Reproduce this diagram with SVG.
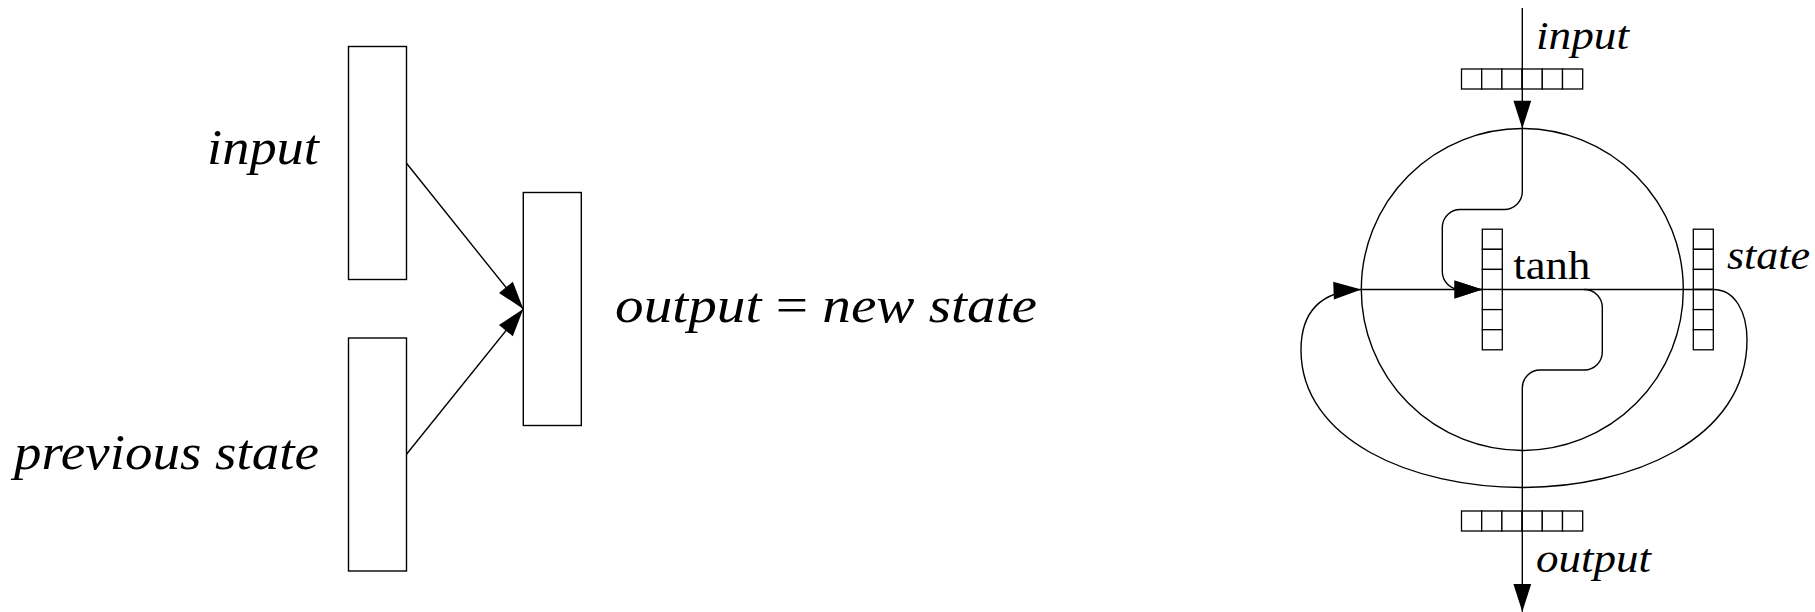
<svg xmlns="http://www.w3.org/2000/svg" width="1815" height="612" viewBox="0 0 1815 612">
<style>
  .box { fill: #fff; stroke: #000; stroke-width: 1.4; }
  .cell { fill: #fff; stroke: #000; stroke-width: 1.3; }
  .line { fill: none; stroke: #000; stroke-width: 1.4; }
  .ital { font-family: "Liberation Serif", "DejaVu Serif", serif; font-style: italic; fill: #000; }
  .rom { font-family: "Liberation Serif", "DejaVu Serif", serif; fill: #000; }
</style>
<defs>
  <marker id="arr" markerUnits="userSpaceOnUse" markerWidth="30" markerHeight="20" viewBox="-26 -9 27 18" refX="0" refY="0" orient="auto">
    <path d="M0,0 L-25,-8 L-25,8 Z" fill="#000"/>
  </marker>
</defs>

<!-- Left diagram -->
<g id="input-box">
  <rect class="box" x="348.5" y="46.5" width="58" height="233"/>
  <text class="ital" x="207" y="163.5" font-size="51" textLength="112" lengthAdjust="spacingAndGlyphs">input</text>
</g>
<g id="prev-state-box">
  <rect class="box" x="348.5" y="338" width="58" height="233"/>
  <text class="ital" x="14" y="468.5" font-size="51" textLength="305" lengthAdjust="spacingAndGlyphs">previous state</text>
</g>
<g id="output-box">
  <rect class="box" x="523.3" y="192.5" width="58" height="233"/>
  <text class="ital" x="615" y="322" font-size="51" textLength="422" lengthAdjust="spacingAndGlyphs">output <tspan font-style="normal">=</tspan> new state</text>
</g>

<!-- Right diagram -->
<g id="cell-circle">
  <circle class="line" cx="1522.3" cy="289.5" r="161"/>
</g>
<g id="input-vector">
  <rect class="cell" x="1461.5" y="69" width="20.2" height="20"/>
  <rect class="cell" x="1481.7" y="69" width="20.2" height="20"/>
  <rect class="cell" x="1501.9" y="69" width="20.2" height="20"/>
  <rect class="cell" x="1522.1" y="69" width="20.2" height="20"/>
  <rect class="cell" x="1542.3" y="69" width="20.2" height="20"/>
  <rect class="cell" x="1562.5" y="69" width="20.2" height="20"/>
  <text class="ital" x="1536" y="48.5" font-size="41" textLength="93" lengthAdjust="spacingAndGlyphs">input</text>
</g>
<g id="output-vector">
  <rect class="cell" x="1461.5" y="511" width="20.2" height="20"/>
  <rect class="cell" x="1481.7" y="511" width="20.2" height="20"/>
  <rect class="cell" x="1501.9" y="511" width="20.2" height="20"/>
  <rect class="cell" x="1522.1" y="511" width="20.2" height="20"/>
  <rect class="cell" x="1542.3" y="511" width="20.2" height="20"/>
  <rect class="cell" x="1562.5" y="511" width="20.2" height="20"/>
  <text class="ital" x="1536" y="572" font-size="41" textLength="115" lengthAdjust="spacingAndGlyphs">output</text>
</g>
<g id="tanh-vector">
  <rect class="cell" x="1482.3" y="229.2" width="20" height="20.1"/>
  <rect class="cell" x="1482.3" y="249.3" width="20" height="20.1"/>
  <rect class="cell" x="1482.3" y="269.4" width="20" height="20.1"/>
  <rect class="cell" x="1482.3" y="289.5" width="20" height="20.1"/>
  <rect class="cell" x="1482.3" y="309.6" width="20" height="20.1"/>
  <rect class="cell" x="1482.3" y="329.7" width="20" height="20.1"/>
  <text class="rom" x="1513.3" y="278.5" font-size="41" textLength="77" lengthAdjust="spacingAndGlyphs">tanh</text>
</g>
<g id="state-vector">
  <rect class="cell" x="1693.3" y="229.2" width="20" height="20.1"/>
  <rect class="cell" x="1693.3" y="249.3" width="20" height="20.1"/>
  <rect class="cell" x="1693.3" y="269.4" width="20" height="20.1"/>
  <rect class="cell" x="1693.3" y="289.5" width="20" height="20.1"/>
  <rect class="cell" x="1693.3" y="309.6" width="20" height="20.1"/>
  <rect class="cell" x="1693.3" y="329.7" width="20" height="20.1"/>
  <text class="ital" x="1727" y="269" font-size="41" textLength="83" lengthAdjust="spacingAndGlyphs">state</text>
</g>

<g id="connectors">
  <line class="line" x1="406.5" y1="163.3" x2="523.3" y2="309" marker-end="url(#arr)"/>
  <line class="line" x1="406.5" y1="454.3" x2="523.3" y2="309" marker-end="url(#arr)"/>

  <line class="line" x1="1522.3" y1="8" x2="1522.3" y2="128.5" marker-end="url(#arr)"/>
  <path class="line" d="M1522.3,128.5 V191.5 A18,18 0 0 1 1504.3,209.5 H1460.3 A18,18 0 0 0 1442.3,227.5 V271.5 A18,18 0 0 0 1460.3,289.5 H1482.3" marker-end="url(#arr)"/>
  <line class="line" x1="1361.3" y1="289.5" x2="1482.3" y2="289.5" marker-end="url(#arr)"/>
  <path class="line" d="M1502.3,289.5 H1713.3 C1735,289.5 1747,312 1747,340 C1747,440 1630,487.5 1522.3,487.5 C1412,487.5 1301,440 1301,350 C1301,310 1322,291 1361.3,289.5" marker-end="url(#arr)"/>
  <path class="line" d="M1584.3,289.5 A18,18 0 0 1 1602.3,307.5 V352 A18,18 0 0 1 1584.3,370 H1540.3 A18,18 0 0 0 1522.3,388 V611.7" marker-end="url(#arr)"/>
</g>
</svg>
